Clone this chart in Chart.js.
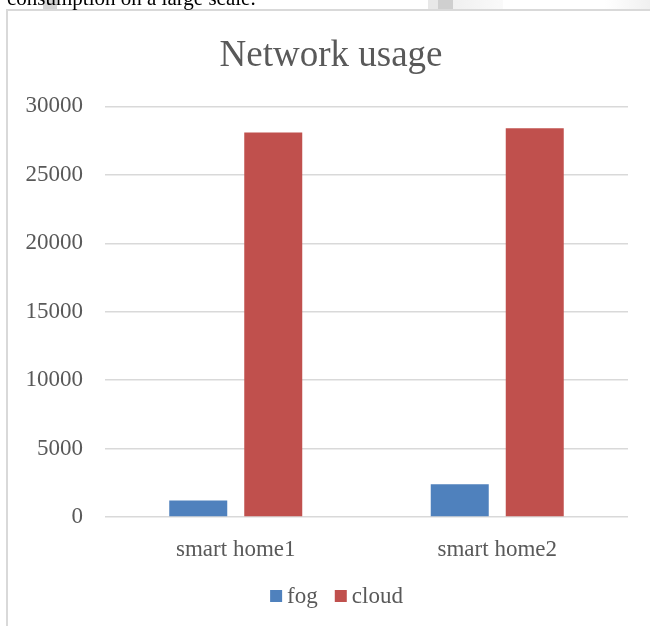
<!DOCTYPE html>
<html>
<head>
<meta charset="utf-8">
<script src="https://cdn.jsdelivr.net/npm/chart.js@4/dist/chart.umd.min.js"></script>
<style>
  html, body { margin: 0; padding: 0; background: #fff; }
  #wrap { position: relative; width: 650px; height: 626px; overflow: hidden; }
  #chart { position: absolute; left: 0; top: 0; }
  .lead {
    position: absolute; left: 7px; top: -12px;
    font: 21px "Liberation Serif", "Times New Roman", serif;
    line-height: 21px; color: #000; white-space: nowrap;
  }
  .smudge { position: absolute; top: 0; height: 9px; }
</style>
</head>
<body>
<div id="wrap">
  <canvas id="chart" width="650" height="626"></canvas>
  <div class="smudge" style="left:43px;width:14px;background:#d6d6d6;"></div>
  <div class="smudge" style="left:428px;width:10px;background:#e8e8e8;"></div>
  <div class="smudge" style="left:438px;width:15px;background:#cfcfcf;"></div>
  <div class="smudge" style="left:453px;width:50px;background:linear-gradient(90deg,#f0f0f0,#fafafa);"></div>
  <div class="smudge" style="left:605px;width:45px;background:linear-gradient(90deg,#ffffff,#f0f0f0);"></div>
  <div class="lead">consumption on a large scale.</div>
</div>
<script>
// Categories and series
const categories = ['smart home1', 'smart home2'];
const fogValues = [1200, 2400];
const cloudValues = [28100, 28400];
const seriesNames = ['fog', 'cloud'];
const seriesColors = ['#4F81BD', '#C0504D'];
const yTicks = [0, 5000, 10000, 15000, 20000, 25000, 30000];

const FONT = '"Liberation Serif", "Times New Roman", serif';
const TEXT = '#595959';
const GRID = '#d9d9d9';

// Frame of the chart box (left and top edges)
const framePlugin = {
  id: 'frame',
  beforeDraw(chart) {
    const ctx = chart.ctx;
    ctx.save();
    ctx.strokeStyle = GRID;
    ctx.lineWidth = 2;
    ctx.beginPath();
    ctx.moveTo(7, chart.height);
    ctx.lineTo(7, 10);
    ctx.lineTo(chart.width, 10);
    ctx.stroke();
    ctx.restore();
  }
};

// Centre the title on the whole chart box, which extends a little past the canvas
const titleShift = {
  id: 'titleShift',
  afterLayout(chart) {
    const t = chart.titleBlock;
    if (t) { t.left += 4.5; t.right += 4.5; }
  }
};

// Legend drawn below the axis: small square followed closely by the series name
const legendPlugin = {
  id: 'bottomLegend',
  afterDraw(chart) {
    const ctx = chart.ctx;
    const ds = chart.data.datasets;
    ctx.save();
    ctx.font = '23px ' + FONT;
    ctx.textBaseline = 'alphabetic';
    const box = 12, gapText = 5, gapItem = 17;
    let total = 0;
    ds.forEach((d, i) => {
      total += box + gapText + ctx.measureText(d.label).width + (i < ds.length - 1 ? gapItem : 0);
    });
    let x = 336.5 - total / 2;
    const baseY = 603;
    ds.forEach(d => {
      ctx.fillStyle = d.backgroundColor;
      ctx.fillRect(x, baseY - 13, box, box);
      x += box + gapText;
      ctx.fillStyle = TEXT;
      ctx.fillText(d.label, x, baseY);
      x += ctx.measureText(d.label).width + gapItem;
    });
    ctx.restore();
  }
};

new Chart(document.getElementById('chart'), {
  type: 'bar',
  data: {
    labels: categories,
    datasets: [
      { label: seriesNames[0], data: fogValues, backgroundColor: seriesColors[0] },
      { label: seriesNames[1], data: cloudValues, backgroundColor: seriesColors[1] }
    ]
  },
  plugins: [framePlugin, titleShift, legendPlugin],
  options: {
    responsive: false,
    animation: false,
    devicePixelRatio: 1,
    categoryPercentage: 0.5736,
    barPercentage: 0.7733,
    layout: { padding: { left: 25, right: 22, top: 0, bottom: 49 } },
    plugins: {
      legend: { display: false },
      tooltip: { enabled: false },
      title: {
        display: true,
        text: 'Network usage',
        color: TEXT,
        font: { family: FONT, size: 37, weight: 'normal' },
        padding: { top: 34, bottom: 28 }
      }
    },
    scales: {
      x: {
        grid: { display: false },
        border: { display: false },
        ticks: { color: TEXT, font: { family: FONT, size: 23 }, padding: 11, maxRotation: 0 },
        afterFit(scale) { scale.height = 60; }
      },
      y: {
        min: yTicks[0],
        max: yTicks[yTicks.length - 1],
        afterBuildTicks(scale) { scale.ticks = yTicks.map(v => ({ value: v })); },
        grid: { color: GRID, lineWidth: 1.5, drawTicks: false },
        border: { display: false },
        ticks: {
          color: TEXT,
          font: { family: FONT, size: 23 },
          padding: 22,
          callback: v => String(v)
        },
        afterFit(scale) { scale.width = 80; }
      }
    }
  }
});
</script>
</body>
</html>
